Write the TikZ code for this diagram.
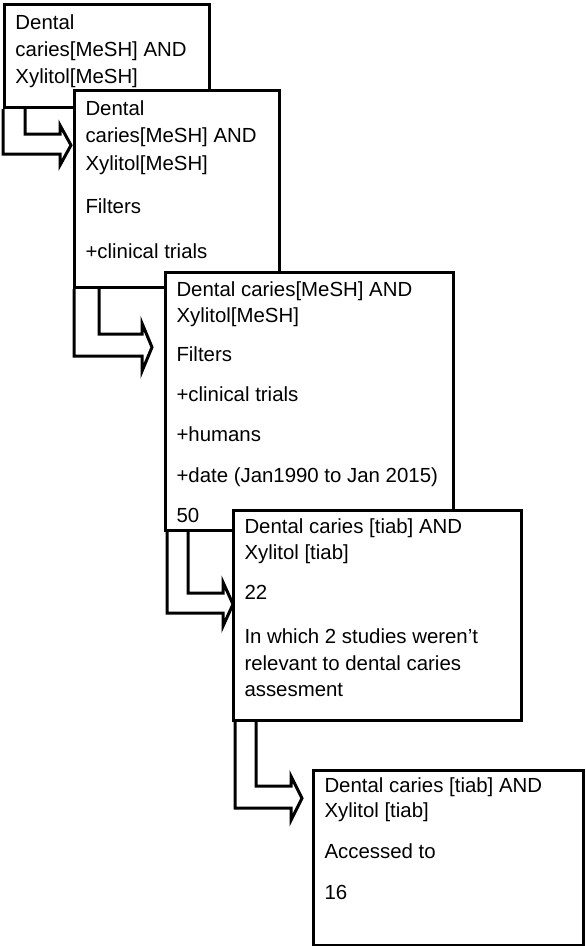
\documentclass[tikz,border=0pt]{standalone}
\usepackage{fontspec}
\setmainfont{Liberation Sans}
\usetikzlibrary{calc}
\tikzset{
  box/.style={draw=black, fill=white, line width=3.2pt, inner sep=0pt, anchor=north west, rectangle},
  txt/.style={inner sep=0pt, outer sep=0pt, align=left, anchor=north west},
  bent/.style={draw=black, line width=3pt, line join=miter},
}
\newcommand{\fr}{\rule{0pt}{20pt}}
\begin{document}
\begin{tikzpicture}[x=1pt,y=-1pt]
\useasboundingbox[fill=white] (0,0) rectangle (586,946);

% Box 1
\node[box, minimum width=205pt, minimum height=103pt] (b1) at (3,3) {};
\node[txt, font=\fontsize{20.4}{27}\selectfont] (t1) at ($(b1.north west)+(12.5,6)$)
  {\fr Dental\\caries[MeSH] AND\\Xylitol[MeSH]};
\draw[bent] (b1.south west) -- ++(0,45) -- ++(57,0) -- ++(0,11) -- ++(11,-20)
  -- ++(-11,-20) -- ++(0,9) -- ++(-35,0) -- ++(0,-25);

% Box 2
\node[box, minimum width=205pt, minimum height=197pt] (b2) at (73,89) {};
\node[txt, font=\fontsize{20.4}{27.5}\selectfont] (t2) at ($(b2.north west)+(12.5,6)$)
  {\fr Dental\\caries[MeSH] AND\\Xylitol[MeSH]\\[16pt]Filters\\[17pt]+clinical trials};
\draw[bent] ($(b2.south west)+(1,0)$) -- ++(0,67) -- ++(68,0) -- ++(0,15) -- ++(10,-24)
  -- ++(-10,-24) -- ++(0,11) -- ++(-43,0) -- ++(0,-45);

% Box 3
\node[box, minimum width=288pt, minimum height=258pt] (b3) at (164,271) {};
\node[txt, font=\fontsize{20.4}{26}\selectfont] (t3) at ($(b3.north west)+(12.5,5)$)
  {\fr Dental caries[MeSH] AND\\Xylitol[MeSH]\\[13pt]Filters\\[14pt]+clinical trials\\[14pt]+humans\\[15pt]+date (Jan1990 to Jan 2015)\\[14pt]50};
\draw[bent] ($(b3.south west)+(3,0)$) -- ++(0,81) -- ++(56,0) -- ++(0,13) -- ++(10,-22)
  -- ++(-10,-22) -- ++(0,11) -- ++(-35,0) -- ++(0,-61);

% Box 4
\node[box, minimum width=288pt, minimum height=210pt] (b4) at (232,509) {};
\node[txt, font=\fontsize{20.4}{26.5}\selectfont] (t4) at ($(b4.north west)+(12.5,4)$)
  {\fr Dental caries [tiab] AND\\Xylitol [tiab]\\[13pt]22\\[18pt]In which 2 studies weren’t\\relevant to dental caries\\assesment};
\draw[bent] ($(b4.south west)+(3,0)$) -- ++(0,86) -- ++(56,0) -- ++(0,12) -- ++(11,-22)
  -- ++(-11,-22) -- ++(0,10) -- ++(-35,0) -- ++(0,-64);

% Box 5
\node[box, minimum width=270pt, minimum height=175pt] (b5) at (312,769) {};
\node[txt, font=\fontsize{20.4}{25.5}\selectfont] (t5) at ($(b5.north west)+(12.5,3)$)
  {\fr Dental caries [tiab] AND\\Xylitol [tiab]\\[15.5pt]Accessed to\\[15.5pt]16};
\end{tikzpicture}
\end{document}
